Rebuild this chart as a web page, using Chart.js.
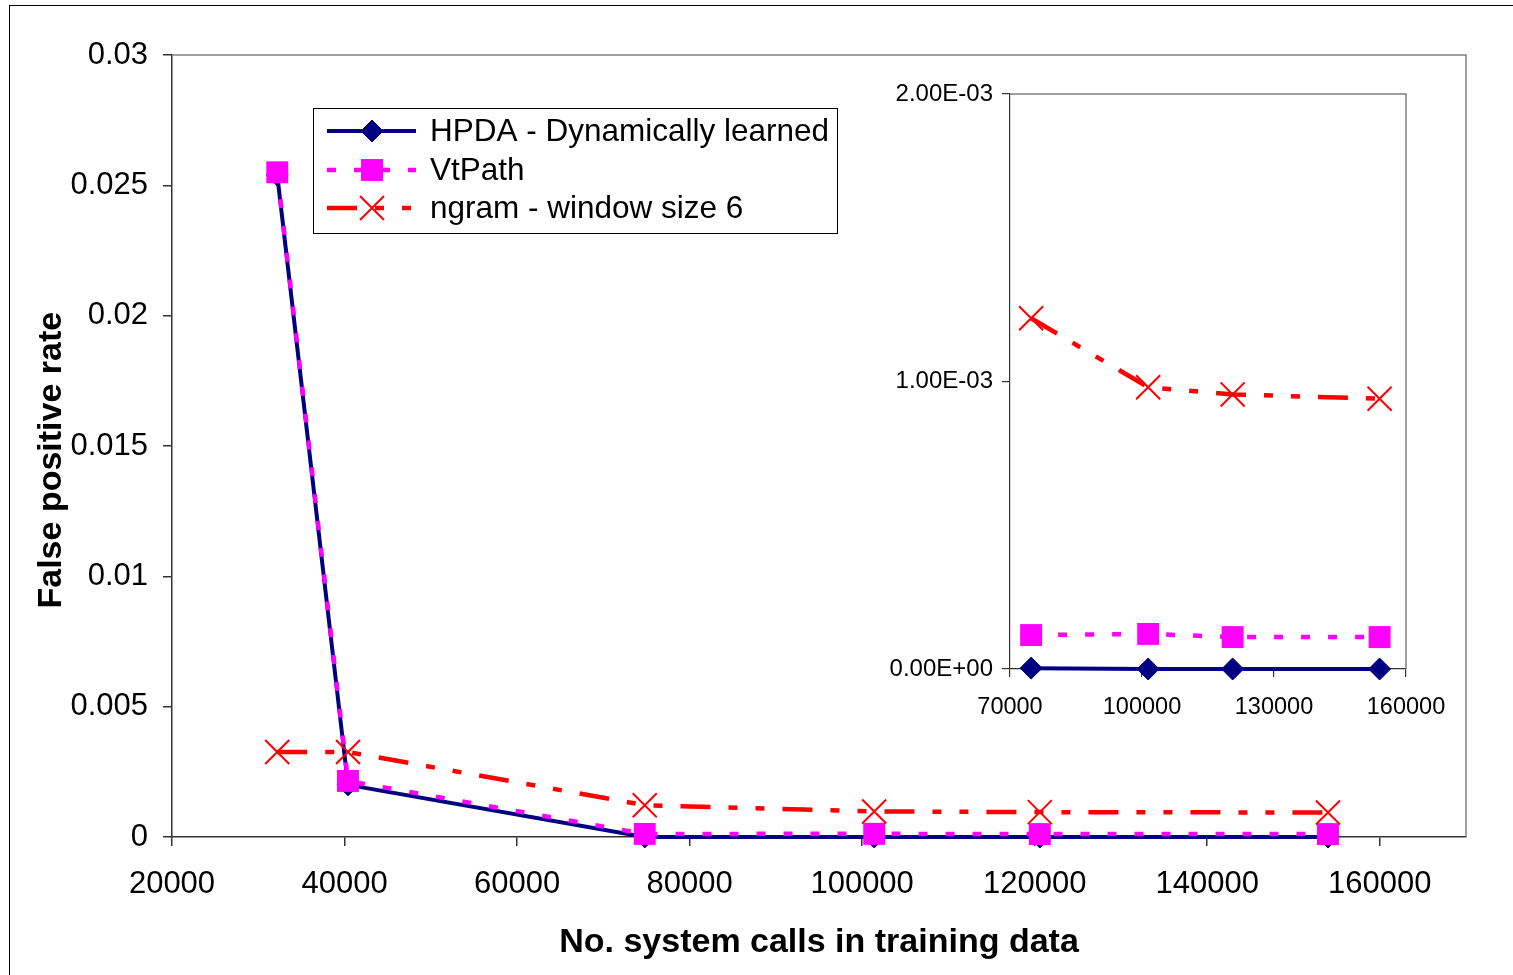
<!DOCTYPE html>
<html>
<head>
<meta charset="utf-8">
<script src="https://cdn.jsdelivr.net/npm/chart.js@4.4.1/dist/chart.umd.min.js"></script>
<style>
  body { margin: 0; background: #fff; }
  #wrap { position: relative; width: 1513px; height: 975px; overflow: hidden; }
  #frame { position: absolute; left: 9px; top: 5px; width: 1530px; height: 1000px; border: 1.5px solid #000; box-sizing: border-box; }
  #main { position: absolute; left: 0; top: 0; }
  #inset { position: absolute; left: 880px; top: 70px; }
</style>
</head>
<body>
<div id="wrap">
  <div id="frame"></div>
  <canvas id="main" width="1513" height="975"></canvas>
  <canvas id="inset" width="600" height="660"></canvas>
</div>
<script>
// training set sizes (no. of system calls)
const trainSizes = [32200, 40400, 74800, 101400, 120600, 154000];
const hpda = [0.0254, 0.0020, 0.000003, 0, 0, 0];
const vtpath = [0.0255, 0.00215, 0.000118, 0.000122, 0.000111, 0.000111];
const ngram = [0.00326, 0.00326, 0.00122, 0.00098, 0.000955, 0.00094];
const seriesNames = ['HPDA - Dynamically learned', 'VtPath', 'ngram - window size 6'];

const mainXTicks = [20000, 40000, 60000, 80000, 100000, 120000, 140000, 160000];
const mainYTicks = ['0', '0.005', '0.01', '0.015', '0.02', '0.025', '0.03'];
const insetXTicks = [70000, 100000, 130000, 160000];
const insetYTicks = ['0.00E+00', '1.00E-03', '2.00E-03'];

Chart.defaults.font.family = '"Liberation Sans", Arial, sans-serif';
Chart.defaults.color = '#000';

const styles = [
  { borderColor: '#000080', backgroundColor: '#000080', borderWidth: 4, pointStyle: 'rectRot', pointRadius: 11, pointBorderWidth: 1, order: 3 },
  { borderColor: '#FF00FF', backgroundColor: '#FF00FF', borderWidth: 4.5, borderDash: [9, 18], pointStyle: 'rect', pointRadius: 15.5, pointBorderWidth: 0, order: 2 },
  { borderColor: '#FF0000', backgroundColor: '#FF0000', borderWidth: 4.5, borderDash: [30, 18, 9, 18, 9, 18], pointStyle: 'crossRot', pointRadius: 17, pointBorderWidth: 2, order: 1 }
];

function makeDatasets(from) {
  return [hpda, vtpath, ngram].map((vals, i) => Object.assign({
    label: seriesNames[i],
    data: vals.slice(from).map((v, j) => ({ x: trainSizes[from + j], y: v })),
    pointHoverRadius: styles[i].pointRadius,
    tension: 0,
    clip: false
  }, styles[i]));
}

// gray top/right border of plot area
const frame = {
  id: 'frame',
  afterDraw(chart) {
    const { ctx, chartArea: a } = chart;
    ctx.save();
    ctx.strokeStyle = '#808080';
    ctx.lineWidth = 1.5;
    ctx.beginPath();
    ctx.moveTo(a.left, a.top);
    ctx.lineTo(a.right, a.top);
    ctx.lineTo(a.right, a.bottom);
    ctx.stroke();
    ctx.restore();
  }
};

// boxed legend sitting inside the plot
const boxLegend = {
  id: 'boxLegend',
  afterDraw(chart) {
    const ctx = chart.ctx;
    ctx.save();
    ctx.fillStyle = '#fff';
    ctx.fillRect(313, 108, 524, 125);
    ctx.strokeStyle = '#000';
    ctx.lineWidth = 1;
    ctx.strokeRect(313.5, 108.5, 524, 125);
    const rows = [131, 170, 208];
    styles.forEach((s, i) => {
      const y = rows[i];
      ctx.save();
      ctx.strokeStyle = s.borderColor;
      ctx.lineWidth = s.borderWidth;
      ctx.setLineDash(s.borderDash || []);
      ctx.beginPath();
      ctx.moveTo(327, y);
      ctx.lineTo(416, y);
      ctx.stroke();
      ctx.restore();
      ctx.fillStyle = s.backgroundColor;
      ctx.strokeStyle = s.borderColor;
      ctx.lineWidth = s.pointBorderWidth || 0;
      Chart.helpers.drawPoint(ctx, { pointStyle: s.pointStyle, radius: s.pointRadius, borderWidth: s.pointBorderWidth, rotation: 0 }, 372, y);
      ctx.fillStyle = '#000';
      ctx.font = '31.5px "Liberation Sans", Arial, sans-serif';
      ctx.textBaseline = 'middle';
      ctx.fillText(seriesNames[i], 430, y + 1);
    });
    ctx.restore();
  }
};

new Chart(document.getElementById('main'), {
  type: 'line',
  data: { datasets: makeDatasets(0) },
  options: {
    responsive: false,
    animation: false,
    devicePixelRatio: 1,
    layout: { padding: { left: 0, top: 55, right: 47, bottom: 0 } },
    plugins: { legend: { display: false }, tooltip: { enabled: false } },
    scales: {
      x: {
        type: 'linear',
        min: 20000,
        max: 170000,
        afterBuildTicks: s => { s.ticks = mainXTicks.map(v => ({ value: v })); },
        afterFit: s => { s.height = 138; },
        ticks: { font: { size: 31 }, padding: 20, maxRotation: 0, autoSkip: false, callback: v => String(v) },
        grid: { drawOnChartArea: false, drawTicks: true, tickLength: 9, color: '#333', lineWidth: 1.5 },
        border: { color: '#333', width: 1.5 },
        title: { display: true, text: 'No. system calls in training data', font: { size: 34, weight: 'bold' }, padding: { top: 0, bottom: 12 } }
      },
      y: {
        min: 0,
        max: 0.03,
        afterFit: s => { s.width = 172; },
        ticks: { stepSize: 0.005, font: { size: 31 }, padding: 15, callback: (v, i) => mainYTicks[i] },
        grid: { drawOnChartArea: false, drawTicks: true, tickLength: 9, color: '#333', lineWidth: 1.5 },
        border: { color: '#333', width: 1.5 },
        // trailing spaces nudge the rotated title a little lower, as in the original
        title: { display: true, text: 'False positive rate   ', font: { size: 34, weight: 'bold' }, padding: { top: 31, bottom: 0 } }
      }
    }
  },
  plugins: [frame, boxLegend]
});

new Chart(document.getElementById('inset'), {
  type: 'line',
  data: { datasets: makeDatasets(2) },
  options: {
    responsive: false,
    animation: false,
    devicePixelRatio: 1,
    layout: { padding: { left: 0, top: 24, right: 74, bottom: 0 } },
    plugins: { legend: { display: false }, tooltip: { enabled: false } },
    scales: {
      x: {
        type: 'linear',
        min: 70000,
        max: 160000,
        afterBuildTicks: s => { s.ticks = insetXTicks.map(v => ({ value: v })); },
        afterFit: s => { s.height = 61; },
        ticks: { font: { size: 23.5 }, padding: 16, maxRotation: 0, autoSkip: false, callback: v => String(v) },
        grid: { drawOnChartArea: false, drawTicks: true, tickLength: 8, color: '#333', lineWidth: 1.2 },
        border: { color: '#333', width: 1.2 }
      },
      y: {
        min: 0,
        max: 0.002,
        afterFit: s => { s.width = 130; },
        ticks: { stepSize: 0.001, font: { size: 24 }, padding: 9, callback: (v, i) => insetYTicks[i] },
        grid: { drawOnChartArea: false, drawTicks: true, tickLength: 8, color: '#333', lineWidth: 1.2 },
        border: { color: '#333', width: 1.2 }
      }
    }
  },
  plugins: [frame]
});
</script>
</body>
</html>
